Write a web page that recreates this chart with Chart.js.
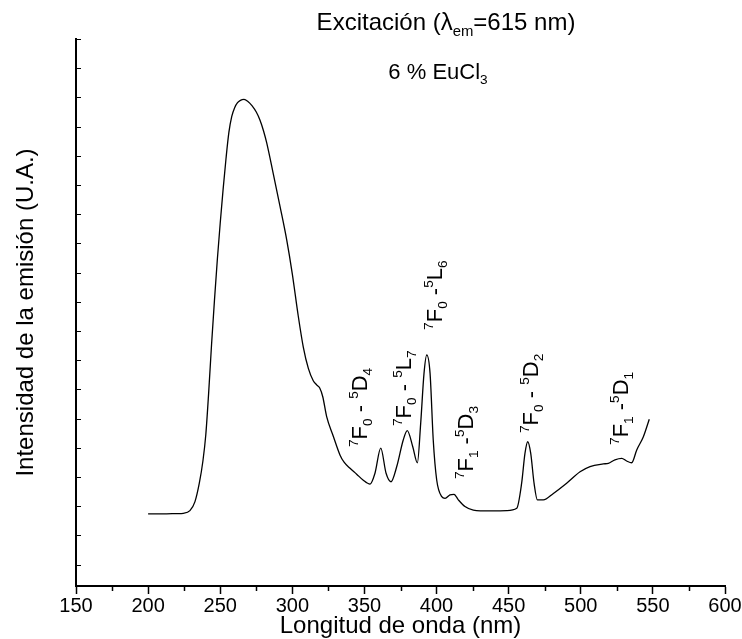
<!DOCTYPE html>
<html lang="es">
  <head>
    <meta charset="UTF-8" />
    <title>Excitación Eu</title>
    <script src="https://cdn.jsdelivr.net/npm/chart.js"></script>
    <style>
      html, body { margin: 0; padding: 0; background: #fff; }
      canvas { display: block; }
    </style>
  </head>
  <body>
    <canvas id="chart" width="742" height="639"></canvas>
    <script>
      // wavelength (nm) and intensity (arb. units)
      const wavelengths = [
        200.0, 210.0, 220.0, 224.4, 229.0, 232.5, 235.5, 238.0, 240.0, 242.0,
        244.0, 246.0, 248.0, 250.0, 252.0, 254.0, 256.0, 258.0, 260.0, 262.0,
        264.0, 266.5, 269.0, 272.0, 275.0, 277.6, 280.0, 282.2, 286.8, 291.5,
        296.1, 300.0, 304.0, 307.6, 311.1, 314.5, 317.0, 319.0, 321.1, 323.8,
        328.4, 333.1, 336.0, 340.0, 344.6, 349.0, 353.9, 357.3, 361.3, 365.0,
        368.4, 372.4, 376.9, 379.7, 383.5, 386.7, 389.0, 391.3, 393.2, 395.5,
        397.7, 400.1, 403.6, 405.9, 409.3, 412.1, 415.1, 419.7, 425.5, 437.1,
        448.6, 455.6, 459.0, 461.3, 463.2, 465.3, 467.6, 469.9, 474.0, 481.0,
        490.2, 499.5, 506.4, 515.6, 519.1, 523.7, 528.4, 531.8, 535.3, 538.8,
        543.4, 547.5,
      ];
      const intensity = [
        1.74, 1.74, 1.75, 1.76, 1.85, 2.16, 2.79, 3.55, 4.45, 5.90,
        7.55, 9.05, 10.45, 11.70, 12.85, 13.90, 14.80, 15.35, 15.65, 15.82,
        15.90, 15.93, 15.87, 15.72, 15.50, 15.22, 14.86, 14.45, 13.38, 12.26,
        11.12, 9.95, 8.55, 7.45, 6.72, 6.30, 6.15, 6.05, 5.75, 5.07,
        4.40, 3.75, 3.50, 3.30, 3.10, 2.90, 2.76, 3.13, 3.99, 3.13,
        2.84, 3.36, 4.27, 4.59, 4.04, 3.49, 4.84, 6.55, 7.18, 6.55,
        4.27, 2.90, 2.33, 2.27, 2.39, 2.41, 2.22, 1.99, 1.87, 1.84,
        1.85, 1.93, 2.79, 3.81, 4.21, 3.81, 2.79, 2.22, 2.22, 2.44,
        2.79, 3.18, 3.36, 3.45, 3.47, 3.59, 3.64, 3.55, 3.49, 3.93,
        4.38, 4.98,
      ];

      const xMajorTicks = [150, 200, 250, 300, 350, 400, 450, 500, 550, 600];
      const xMinorTicks = [175, 225, 275, 325, 375, 425, 475, 525, 575];
      const yTicks = [0, 1, 2, 3, 4, 5, 6, 7, 8, 9, 10, 11, 12, 13, 14, 15, 16, 17, 18];

      // transition labels (Origin style: \+() superscript, \-() subscript)
      const peakLabels = [
        "\\+(7)F\\-(0) - \\+(5)D\\-(4)",
        "\\+(7)F\\-(0) - \\+(5)L\\-(7)",
        "\\+(7)F\\-(0) -\\+(5)L\\-(6)",
        "\\+(7)F\\-(1) -\\+(5)D\\-(3)",
        "\\+(7)F\\-(0) - \\+(5)D\\-(2)",
        "\\+(7)F\\-(1) -\\+(5)D\\-(1)",
      ];
      // where each label starts (wavelength, intensity)
      const labelAnchorX = [351.8, 382.3, 403.8, 425.3, 470.3, 532.8];
      const labelAnchorY = [4.03, 4.75, 8.04, 2.93, 4.51, 4.10];

      const titleText = "Excitación (λ\\-(em)=615 nm)";
      const sampleText = "6 % EuCl\\-(3)";

      const FONT = '"Liberation Sans", Arial, Helvetica, sans-serif';
      Chart.defaults.font.family = FONT;
      Chart.defaults.color = "#000";

      function richParts(str) {
        const parts = [];
        const re = /\\([+-])\(([^)]*)\)|([^\\]+)/g;
        let m;
        while ((m = re.exec(str))) {
          if (m[3]) parts.push({ t: m[3], k: 0 });
          else parts.push({ t: m[2], k: m[1] === "+" ? 1 : -1 });
        }
        return parts;
      }

      function drawRich(ctx, str, x, y, size, angle, align) {
        const parts = richParts(str);
        ctx.save();
        ctx.translate(x, y);
        ctx.rotate(angle);
        ctx.fillStyle = "#000";
        ctx.textBaseline = "alphabetic";
        ctx.textAlign = "left";
        let w = 0;
        parts.forEach((p) => {
          ctx.font = (p.k ? size * 0.62 : size) + "px " + FONT;
          w += ctx.measureText(p.t).width;
        });
        let cx = align === "center" ? -w / 2 : 0;
        parts.forEach((p) => {
          const s = p.k ? size * 0.62 : size;
          ctx.font = s + "px " + FONT;
          const dy = p.k === 1 ? -size * 0.42 : p.k === -1 ? size * 0.24 : 0;
          ctx.fillText(p.t, cx, dy);
          cx += ctx.measureText(p.t).width;
        });
        ctx.restore();
      }

      const decorations = {
        id: "decorations",
        afterDraw(chart) {
          const ctx = chart.ctx;
          const xs = chart.scales.x;
          const ys = chart.scales.y;
          const area = chart.chartArea;

          ctx.save();
          ctx.strokeStyle = "#000";
          ctx.lineWidth = 1.5;
          // minor ticks on x (outward)
          xMinorTicks.forEach((v) => {
            const px = Math.round(xs.getPixelForValue(v)) + 0.5;
            ctx.beginPath();
            ctx.moveTo(px, area.bottom);
            ctx.lineTo(px, area.bottom + 5);
            ctx.stroke();
          });
          // y ticks point into the plot
          ctx.lineWidth = 1;
          ys.ticks.forEach((t) => {
            const py = Math.round(ys.getPixelForValue(t.value)) + 0.5;
            ctx.beginPath();
            ctx.moveTo(area.left, py);
            ctx.lineTo(area.left + 5, py);
            ctx.stroke();
          });
          ctx.restore();

          drawRich(ctx, titleText, 446, 30, 24, 0, "center");
          drawRich(ctx, sampleText, 438, 79, 22, 0, "center");

          peakLabels.forEach((txt, i) => {
            const px = xs.getPixelForValue(labelAnchorX[i]);
            const py = ys.getPixelForValue(labelAnchorY[i]);
            drawRich(ctx, txt, px, py, 22, -Math.PI / 2, "left");
          });
        },
      };

      new Chart(document.getElementById("chart"), {
        type: "line",
        data: {
          datasets: [
            {
              data: wavelengths.map((w, i) => ({ x: w, y: intensity[i] })),
              borderColor: "#000",
              borderWidth: 1.3,
              pointRadius: 0,
              fill: false,
              cubicInterpolationMode: "monotone",
            },
          ],
        },
        options: {
          responsive: false,
          animation: false,
          layout: { padding: { top: 39, right: 17, left: 0, bottom: 0 } },
          plugins: { legend: { display: false }, tooltip: { enabled: false } },
          scales: {
            x: {
              type: "linear",
              min: 150,
              max: 600,
              afterFit: (scale) => { scale.height = 53; },
              afterBuildTicks: (scale) => {
                scale.ticks = xMajorTicks.map((v) => ({ value: v }));
              },
              ticks: { font: { size: 20 }, color: "#000", padding: 0, maxRotation: 0 },
              grid: {
                drawOnChartArea: false,
                tickLength: 8,
                tickWidth: 1.5,
                color: "#000",
              },
              border: { display: true, color: "#000", width: 2 },
              title: {
                display: true,
                text: "Longitud de onda (nm)",
                font: { size: 24 },
                color: "#000",
                padding: { top: 0, bottom: -2 },
              },
            },
            y: {
              type: "linear",
              min: -0.73,
              max: 18,
              afterFit: (scale) => { scale.width = 76; },
              afterBuildTicks: (scale) => {
                scale.ticks = yTicks.map((v) => ({ value: v }));
              },
              ticks: { display: false },
              grid: { display: false, drawTicks: false },
              border: { display: true, color: "#000", width: 2 },
              title: {
                display: true,
                text: "Intensidad de la emisión (U.A.)",
                font: { size: 24 },
                color: "#000",
                padding: { top: 12, bottom: 0 },
              },
            },
          },
        },
        plugins: [decorations],
      });
    </script>
  </body>
</html>
